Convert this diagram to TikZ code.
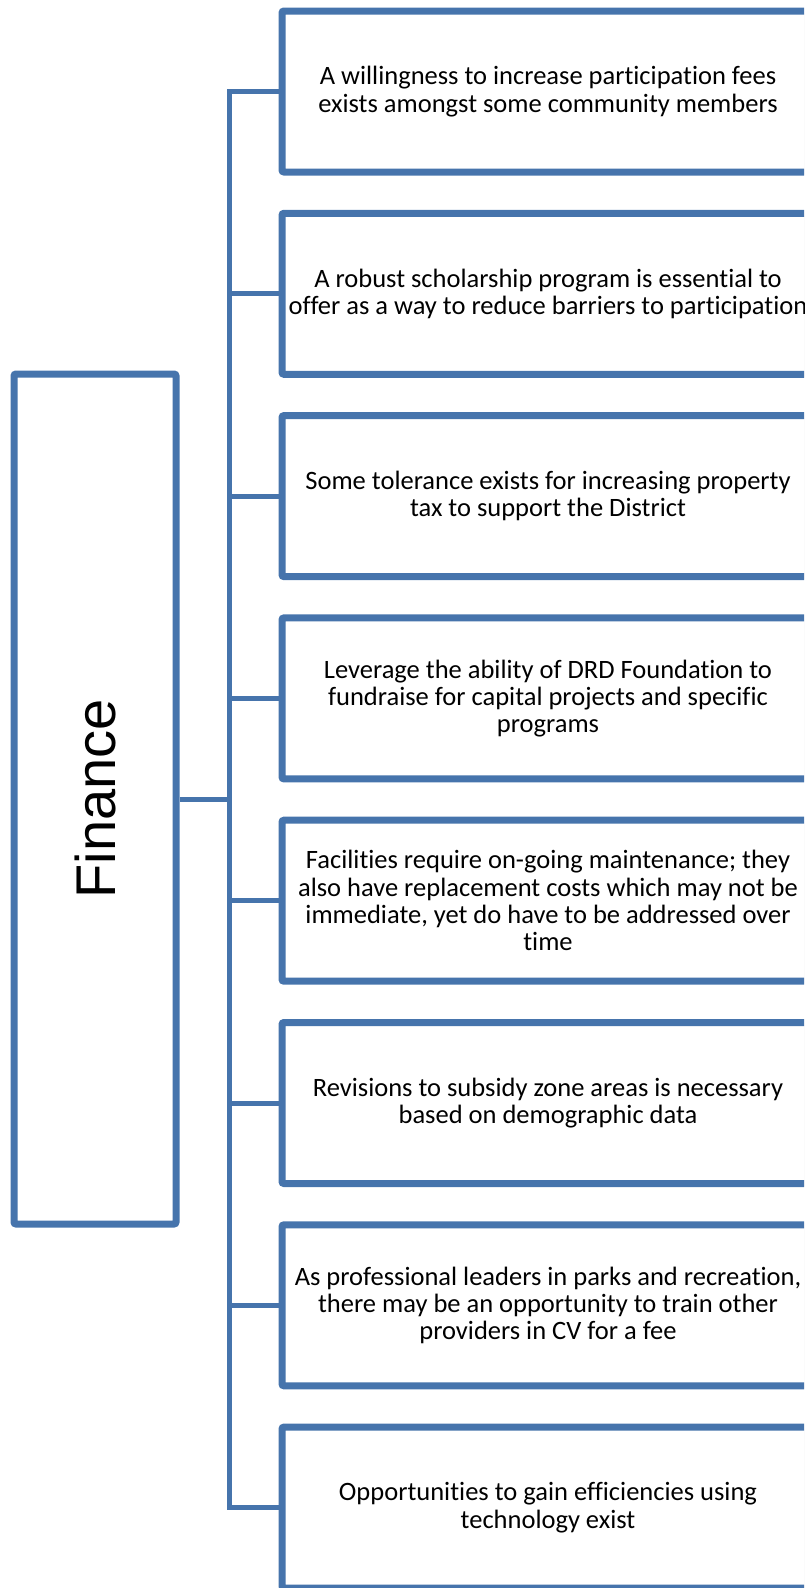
\documentclass[tikz,border=0pt]{standalone}
\usepackage{fontspec}
\setmainfont{Carlito}[Ligatures=NoCommon]
\newfontfamily\headfont{Liberation Sans}
\usepackage{xcolor}
\usetikzlibrary{positioning, shadows}
\definecolor{frameblue}{RGB}{70,116,172}

\begin{document}
\begin{tikzpicture}[
    x=1pt, y=1pt,
    node distance=34.3pt,
    item/.style={rectangle, rounded corners=2pt, draw=frameblue, line width=7pt, fill=white, minimum width=532pt, minimum height=161pt, align=center, font=\fontsize{26.5}{27.3}\selectfont, drop shadow={shadow xshift=1pt, shadow yshift=-2.5pt, opacity=.25}},
    topic/.style={rectangle, rounded corners=2pt, draw=frameblue, line width=7pt, fill=white, minimum width=162pt, minimum height=850pt, font=\headfont\fontsize{56}{60}\selectfont, drop shadow={shadow xshift=1pt, shadow yshift=-2.5pt, opacity=.25}},
    link/.style={draw=frameblue, line width=5pt}
]
    \useasboundingbox (0,0) rectangle (804,-1588);
    \clip (0,0) rectangle (804,-1588);

    \node[topic] (finance) at (95,-799) {\rotatebox{90}{Finance}};

    \node[item] (fees) at (548,-91.5) {A willingness to increase participation fees\\exists amongst some community members};
    \node[item, below=of fees] (scholar) {A robust scholarship program is essential to\\offer as a way to reduce barriers to participation};
    \node[item, below=of scholar] (tax) {Some tolerance exists for increasing property\\tax to support the District};
    \node[item, below=of tax] (foundation) {Leverage the ability of DRD Foundation to\\fundraise for capital projects and specific\\programs};
    \node[item, below=of foundation] (upkeep) {Facilities require on-going maintenance; they\\also have replacement costs which may not be\\immediate, yet do have to be addressed over\\time};
    \node[item, below=of upkeep] (subsidy) {Revisions to subsidy zone areas is necessary\\based on demographic data};
    \node[item, below=of subsidy] (training) {As professional leaders in parks and recreation,\\there may be an opportunity to train other\\providers in CV for a fee};
    \node[item, below=of training] (tech) {Opportunities to gain efficiencies using\\technology exist};

    % Tree connectors
    \coordinate (hub) at (229,-799);
    \draw[link] (finance.east) -- (hub);
    \draw[link] (hub) |- (fees.west);
    \draw[link] (hub) |- (scholar.west);
    \draw[link] (hub) |- (tax.west);
    \draw[link] (hub) |- (foundation.west);
    \draw[link] (hub) |- (upkeep.west);
    \draw[link] (hub) |- (subsidy.west);
    \draw[link] (hub) |- (training.west);
    \draw[link] (hub) |- (tech.west);
\end{tikzpicture}
\end{document}
